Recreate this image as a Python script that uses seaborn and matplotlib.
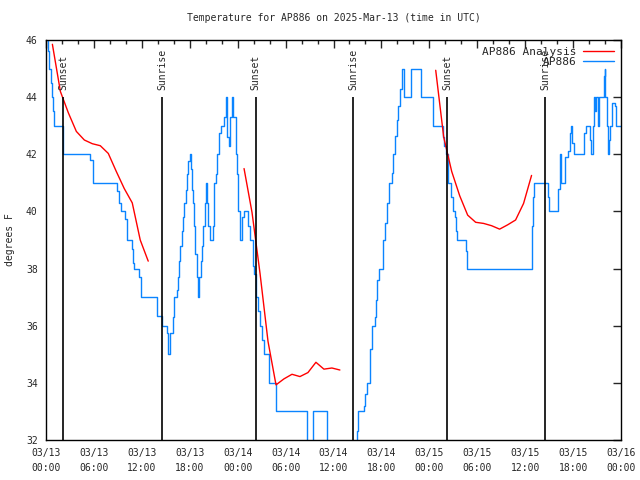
import matplotlib
matplotlib.use("Agg")
import matplotlib.pyplot as plt
from matplotlib.lines import Line2D
from matplotlib.ticker import MultipleLocator
import seaborn as sns
import pandas as pd

# hours since 03/13 00:00 UTC
obs_hours = [0.0, 0.2, 0.4, 0.6, 0.75, 0.85, 1.0, 2.15, 5.55, 5.85, 8.95, 9.1, 9.35, 9.95, 10.1,
             10.2, 10.8, 10.95, 11.05, 11.65, 11.85, 13.85, 14.55, 15.1, 15.3, 15.5, 15.85, 16.0,
             16.35, 16.5, 16.7, 16.8, 17.0, 17.1, 17.3, 17.5, 17.65, 17.8, 18.0, 18.2, 18.3, 18.4,
             18.5, 18.7, 18.87, 19.07, 19.2, 19.37, 19.53, 19.7, 19.87, 20.0, 20.1, 20.3, 20.5,
             20.85, 21.0, 21.05, 21.3, 21.4, 21.65, 21.9, 22.35, 22.5, 22.7, 22.95, 23.1, 23.25,
             23.4, 23.75, 23.9, 24.1, 24.3, 24.5, 24.8, 25.35, 25.6, 25.9, 26.05, 26.3, 26.6, 26.8,
             27.0, 27.3, 27.9, 28.75, 32.7, 33.45, 35.2, 38.95, 39.1, 39.85, 40.0, 40.15, 40.55,
             40.85, 41.15, 41.3, 41.5, 41.75, 42.25, 42.45, 42.75, 43.0, 43.3, 43.5, 43.7, 43.9,
             44.1, 44.35, 44.55, 44.85, 45.75, 46.95, 48.45, 49.7, 49.85, 50.1, 50.4, 50.75, 50.95,
             51.2, 51.4, 51.5, 52.55, 52.75, 60.8, 60.9, 61.0, 61.15, 62.8, 62.95, 64.15, 64.35,
             64.5, 64.95, 65.35, 65.6, 65.7, 65.9, 66.1, 67.4, 67.6, 68.1, 68.3, 68.5, 68.6, 68.7,
             68.85, 69.1, 69.25, 69.85, 69.95, 70.05, 70.2, 70.35, 70.45, 70.6, 70.85, 71.2, 71.35,
             72.0]
obs_temps = [46.0, 45.6, 45.0, 44.5, 44.0, 43.5, 43.0, 42.0, 41.8, 41.0, 40.7, 40.3, 40.0, 39.75, 39.3,
             39.0, 38.7, 38.2, 38.0, 37.7, 37.0, 36.35, 36.0, 35.75, 35.0, 35.75, 36.3, 37.0,
             37.25, 37.7, 38.25, 38.8, 39.3, 39.8, 40.3, 40.75, 41.3, 41.75, 42.0, 41.5, 40.75, 40.3,
             39.5, 38.5, 37.7, 37.0, 37.7, 38.25, 38.8, 39.5, 40.3, 41.0, 40.3, 39.5, 39.0,
             39.5, 40.0, 41.0, 41.3, 42.0, 42.75, 43.0, 43.3, 44.0, 42.6, 42.3, 43.3, 44.0,
             43.3, 42.0, 41.3, 40.0, 39.0, 39.8, 40.0, 39.5, 39.0, 38.1, 37.8, 37.0, 36.5, 36.0,
             35.5, 35.0, 34.0, 33.0, 31.0, 33.0, 31.0, 32.3, 33.0, 33.2, 33.6, 34.0, 35.2,
             36.0, 36.3, 36.9, 37.6, 38.0, 39.0, 39.6, 40.3, 41.0, 41.35, 42.0, 42.65, 43.2,
             43.7, 44.3, 45.0, 44.0, 45.0, 44.0, 43.0, 42.6, 42.3, 42.0, 41.0, 40.5, 40.0,
             39.8, 39.3, 39.0, 38.6, 38.0, 38.5, 39.5, 40.5, 41.0, 40.5, 40.0, 40.8, 42.0,
             41.0, 41.9, 42.1, 42.75, 43.0, 42.4, 42.0, 42.75, 43.0, 42.5, 42.0, 43.0, 44.0, 43.5,
             44.0, 43.0, 44.0, 44.75, 45.0, 44.0, 43.0, 42.0, 42.5, 43.0, 43.8, 43.7, 43.0,
             43.0]

ana1_hours = [0.8, 1.8, 2.8, 3.8, 4.8, 5.8, 6.8, 7.8, 8.8, 9.8, 10.8, 11.8, 12.8]
ana1_temps = [45.85, 44.2, 43.45, 42.8, 42.5, 42.37, 42.3, 42.03, 41.4, 40.8, 40.3, 39.0, 38.26]
ana2_hours = [24.8, 25.8, 26.8, 27.8, 28.8, 29.8, 30.8, 31.8, 32.8, 33.8, 34.8, 35.8, 36.8]
ana2_temps = [41.5, 39.96, 37.83, 35.45, 33.93, 34.14, 34.3, 34.22, 34.36, 34.72, 34.48, 34.52, 34.45]
ana3_hours = [48.8, 49.8, 50.8, 51.8, 52.8, 53.8, 54.8, 55.8, 56.8, 57.8, 58.8, 59.8, 60.8]
ana3_temps = [44.94, 42.6, 41.4, 40.55, 39.87, 39.62, 39.58, 39.5, 39.38, 39.53, 39.7, 40.28, 41.26]

sun_hours = [2.17, 14.56, 26.25, 38.49, 50.26, 62.53]
sun_labels = ["Sunset", "Sunrise", "Sunset", "Sunrise", "Sunset", "Sunrise"]

tick_hours = list(range(0, 73, 6))
tick_labels = ["03/13\n00:00", "03/13\n06:00", "03/13\n12:00", "03/13\n18:00",
               "03/14\n00:00", "03/14\n06:00", "03/14\n12:00", "03/14\n18:00",
               "03/15\n00:00", "03/15\n06:00", "03/15\n12:00", "03/15\n18:00",
               "03/16\n00:00"]

sns.set_style("white")
plt.rcParams['font.family'] = ['DejaVu Sans Mono']
fs = 7

obs = pd.DataFrame({'hour': obs_hours, 'temp': obs_temps})
ana = pd.concat([
    pd.DataFrame({'hour': ana1_hours, 'temp': ana1_temps, 'seg': 1}),
    pd.DataFrame({'hour': ana2_hours, 'temp': ana2_temps, 'seg': 2}),
    pd.DataFrame({'hour': ana3_hours, 'temp': ana3_temps, 'seg': 3}),
])

fig = plt.figure(figsize=(6.4, 4.8), dpi=100)
ax = fig.add_axes([46 / 640, 1 - 440 / 480, 575 / 640, 400 / 480])

blue = '#0a84ff'
sns.lineplot(data=obs, x='hour', y='temp', ax=ax, color=blue, lw=1.0,
             drawstyle='steps-post', estimator=None, legend=False)
sns.lineplot(data=ana, x='hour', y='temp', units='seg', estimator=None, ax=ax,
             color='red', lw=1.0, legend=False)

ax.vlines(sun_hours, 32, 44, color='black', lw=1.2)
for h, s in zip(sun_hours, sun_labels):
    ax.text(h, 44.25, s, rotation=90, ha='center', va='bottom', fontsize=fs)

ax.set_xlim(0, 72)
ax.set_ylim(32, 46)
ax.set_xticks(tick_hours)
ax.set_xticklabels(tick_labels, fontsize=fs, linespacing=1.6)
ax.xaxis.set_minor_locator(MultipleLocator(2))
ax.set_yticks(range(32, 47, 2))
ax.tick_params(axis='y', labelsize=fs)
ax.tick_params(which='major', direction='in', length=6, width=1, top=True, right=True, pad=6)
ax.tick_params(which='minor', direction='in', length=3, width=1, top=True, right=True)
for sp in ax.spines.values():
    sp.set_color('black')
    sp.set_linewidth(1)

ax.set_xlabel('')
ax.set_ylabel('degrees F', fontsize=fs, labelpad=8)
ax.set_title('Temperature for AP886 on 2025-Mar-13 (time in UTC)', fontsize=fs, pad=14)

handles = [Line2D([], [], color='red', lw=1.0), Line2D([], [], color=blue, lw=1.0)]
ax.legend(handles, ['AP886 Analysis', 'AP886'], loc='upper right', frameon=False,
          markerfirst=False, fontsize=fs + 1, handlelength=2.8, labelspacing=0.05,
          borderaxespad=0.2, handletextpad=0.6)

fig.savefig('out.png', dpi=100)
